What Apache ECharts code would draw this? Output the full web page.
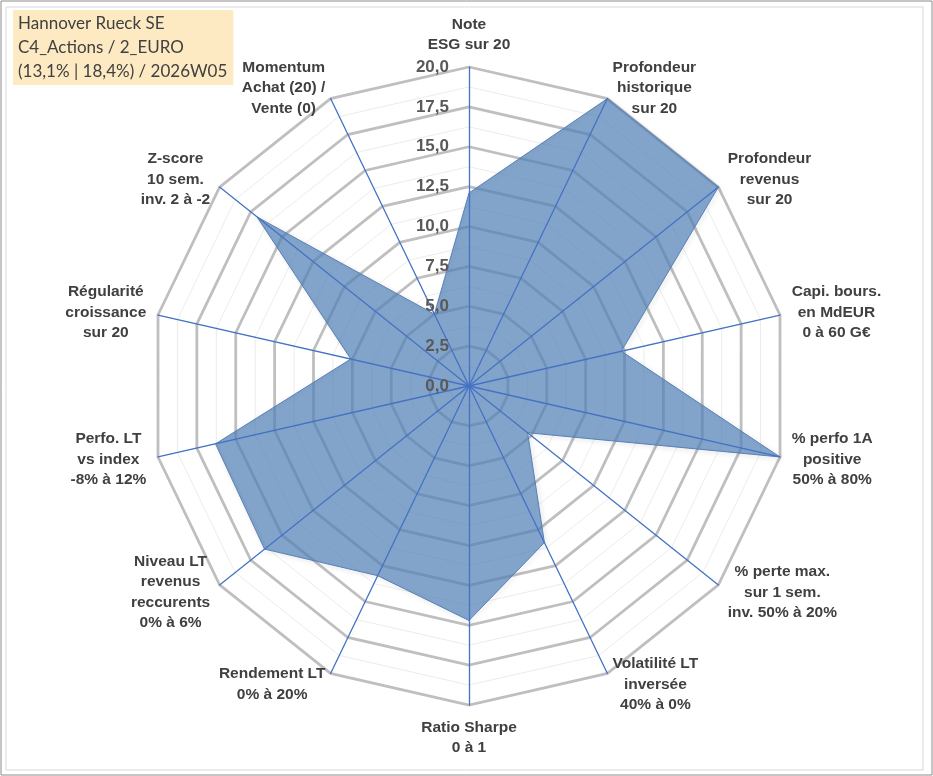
<!DOCTYPE html>
<html>
<head>
<meta charset="utf-8">
<script src="https://cdn.jsdelivr.net/npm/echarts@6/dist/echarts.min.js"></script>
<style>
    html, body { margin: 0; padding: 0; background: #fff; }
    #chart { width: 933px; height: 776px; }
</style>
</head>
<body>
<div id="chart"></div>
<script>
// axes, clockwise from the top
var axisNames = [
    'Note\nESG sur 20',
    'Profondeur\nhistorique\nsur 20',
    'Profondeur\nrevenus\nsur 20',
    'Capi. bours.\nen MdEUR\n0 à 60 G€',
    '% perfo 1A\npositive\n50% à 80%',
    '% perte max.\nsur 1 sem.\ninv. 50% à 20%',
    'Volatilité LT\ninversée\n40% à 0%',
    'Ratio Sharpe\n0 à 1',
    'Rendement LT\n0% à 20%',
    'Niveau LT\nrevenus\nreccurents\n0% à 6%',
    'Perfo. LT\nvs index\n-8% à 12%',
    'Régularité\ncroissance\nsur 20',
    'Z-score\n10 sem.\ninv. 2 à -2',
    'Momentum\nAchat (20) /\nVente (0)'
];
var scores = [12.1, 20, 20, 9.8, 20, 4.7, 10.9, 14.7, 13.2, 16.4, 16.3, 7.6, 17.0, 5.0];
var scoreMax = 20;
var scoreStep = 2.5;
var titleLines = ['Hannover Rueck SE', 'C4_Actions / 2_EURO', '(13,1% | 18,4%) / 2026W05'];

// echarts places radar indicators counter-clockwise: keep the first, reverse the rest
function ccw(arr) {
    return [arr[0]].concat(arr.slice(1).reverse());
}

var center = [469, 386];
var radius = 319;

var indicators = ccw(axisNames).map(function (n) {
    return {name: n, max: scoreMax, min: 0};
});

var nameFont = {
    color: '#404040',
    fontFamily: 'Liberation Sans',
    fontWeight: 'bold',
    fontSize: 15.5,
    lineHeight: 20.5
};

// shared radar settings, each layer turns on what it draws
function radarLayer(extra) {
    var r = {
        center: center,
        radius: radius,
        shape: 'polygon',
        splitNumber: scoreMax / scoreStep,
        indicator: indicators,
        axisName: {show: false},
        axisLine: {show: false},
        axisTick: {show: false},
        splitArea: {show: false},
        splitLine: {show: false}
    };
    for (var k in extra) r[k] = extra[k];
    return r;
}

var option = {
    animation: false,
    title: {
        text: titleLines.join('\n'),
        left: 13,
        top: 10,
        padding: [2, 6, 1, 5],
        backgroundColor: '#fdeac3',
        textStyle: {
            fontFamily: 'Lato',
            fontWeight: 'normal',
            fontSize: 17,
            lineHeight: 24,
            color: '#404040'
        }
    },
    graphic: [
        {type: 'rect', shape: {x: 1, y: 1, width: 931, height: 774}, style: {fill: 'none', stroke: '#8c8c8c', lineWidth: 1}},
        {type: 'rect', shape: {x: 6, y: 7, width: 917, height: 763}, style: {fill: 'none', stroke: '#d9d9d9', lineWidth: 1}}
    ],
    radar: [
        // minor rings
        radarLayer({
            splitNumber: scoreMax / scoreStep * 2,
            splitLine: {lineStyle: {color: '#ececec', width: 1}},
            z: 1
        }),
        // major rings + names
        radarLayer({
            nameGap: 12,
            axisName: {
                color: nameFont.color,
                fontFamily: nameFont.fontFamily,
                fontWeight: nameFont.fontWeight,
                fontSize: nameFont.fontSize,
                lineHeight: nameFont.lineHeight,
                formatter: function (value) {
                    return value.split('\n').map(function (l) {
                        return '{c|' + l + '}';
                    }).join('\n');
                },
                rich: {
                    c: {
                        align: 'center',
                        color: nameFont.color,
                        fontFamily: nameFont.fontFamily,
                        fontWeight: nameFont.fontWeight,
                        fontSize: nameFont.fontSize,
                        lineHeight: nameFont.lineHeight
                    }
                }
            },
            splitLine: {lineStyle: {color: '#bfbfbf', width: 2.8}},
            z: 2
        }),
        // spokes on top of the area
        radarLayer({
            axisLine: {lineStyle: {color: '#4472c4', width: 1.3}},
            z: 4
        })
    ],
    polar: {center: center, radius: radius},
    angleAxis: {show: false, startAngle: 90, min: 0, max: 360},
    radiusAxis: {
        min: 0,
        max: scoreMax,
        interval: scoreStep,
        z: 10,
        axisLine: {show: false},
        axisTick: {show: false},
        splitLine: {show: false},
        axisLabel: {
            margin: 20,
            color: '#595959',
            fontFamily: 'Liberation Sans',
            fontWeight: 'bold',
            fontSize: 17,
            formatter: function (v) {
                return v.toFixed(1).replace('.', ',');
            }
        }
    },
    series: [{
        type: 'radar',
        radarIndex: 1,
        symbol: 'none',
        z: 3,
        lineStyle: {
            color: '#5b82b8',
            width: 1,
            shadowBlur: 4,
            shadowColor: 'rgba(0,0,0,0.25)',
            shadowOffsetX: 1.5,
            shadowOffsetY: 1.5
        },
        areaStyle: {
            color: 'rgb(82,128,182)',
            opacity: 0.72
        },
        data: [{value: ccw(scores), name: 'Hannover Rueck SE'}]
    }]
};

var myChart = echarts.init(document.getElementById('chart'));
myChart.setOption(option);
</script>
</body>
</html>
